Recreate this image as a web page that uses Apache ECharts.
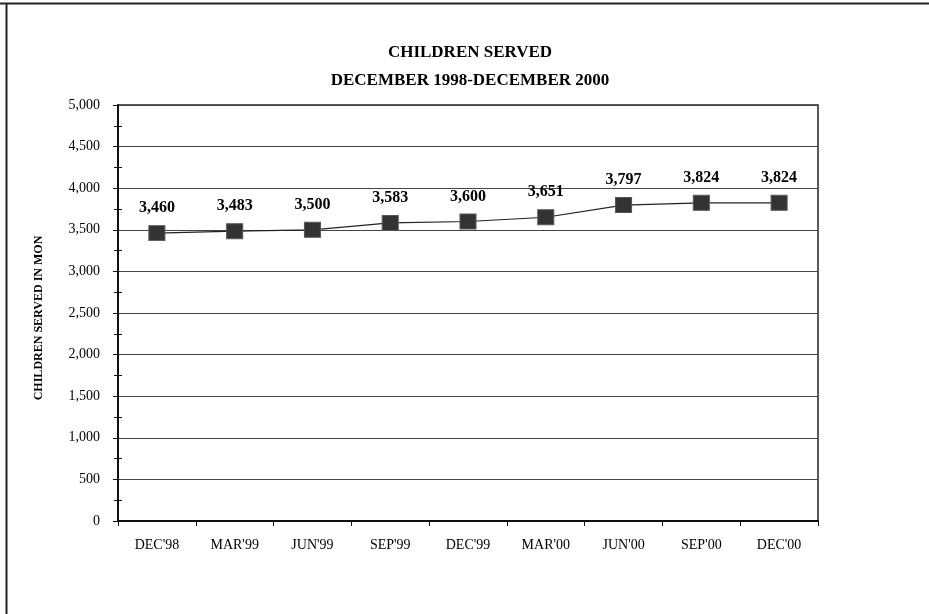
<!DOCTYPE html>
<html>
<head>
<meta charset="utf-8">
<script src="https://cdn.jsdelivr.net/npm/echarts@6/dist/echarts.min.js"></script>
<style>
html,body{margin:0;padding:0;background:#fff;}
#chart{width:929px;height:614px;}
</style>
</head>
<body>
<div id="chart"></div>
<script>
const categories = ["DEC'98","MAR'99","JUN'99","SEP'99","DEC'99","MAR'00","JUN'00","SEP'00","DEC'00"];
const childrenServed = [3460, 3483, 3500, 3583, 3600, 3651, 3797, 3824, 3824];
const titleLines = ["CHILDREN SERVED", "DECEMBER 1998-DECEMBER 2000"];
const yAxisName = "CHILDREN SERVED IN MON";
const yMin = 0, yMax = 5000, yStep = 500;

const serif = "'Liberation Serif', 'DejaVu Serif', serif";
const chart = echarts.init(document.getElementById('chart'));
chart.setOption({
  backgroundColor: '#fff',
  animation: false,
  title: {
    text: titleLines.join('\n'),
    left: 465, top: 34, textAlign: 'center',
    textStyle: { fontFamily: serif, fontWeight: 'bold', fontSize: 17, color: '#000', lineHeight: 28 }
  },
  graphic: [
    { type: 'line', shape: { x1: 0, y1: 3.5, x2: 929, y2: 3.5 }, style: { stroke: '#222', lineWidth: 2 } },
    { type: 'line', shape: { x1: 6.5, y1: 3, x2: 6.5, y2: 614 }, style: { stroke: '#222', lineWidth: 2 } },
    { type: 'text', x: 39, y: 318, rotation: Math.PI / 2,
      style: { text: yAxisName, font: 'bold 12px ' + serif, fill: '#000', align: 'center', verticalAlign: 'middle' }, z: 10 }
  ],
  grid: { left: 118, right: 111, top: 105, bottom: 93, show: true, borderColor: '#222', borderWidth: 1.5, backgroundColor: 'transparent' },
  xAxis: {
    type: 'category', data: categories, boundaryGap: true,
    axisLine: { lineStyle: { color: '#111', width: 2 } },
    axisTick: { show: true, length: 5, lineStyle: { color: '#111' } },
    axisLabel: { fontFamily: serif, fontSize: 14, color: '#000', margin: 17 }
  },
  yAxis: [{
    type: 'value', min: yMin, max: yMax, interval: yStep,
    axisLine: { show: true, lineStyle: { color: '#111', width: 2 } },
    axisTick: { show: true, length: 5, lineStyle: { color: '#111' } },
    minorTick: { show: true, splitNumber: 2, length: 4, lineStyle: { color: '#111' } },
    splitLine: { show: true, lineStyle: { color: '#444', width: 1 } },
    axisLabel: { fontFamily: serif, fontSize: 14, color: '#000', margin: 18,
      formatter: v => v.toLocaleString('en-US') }
  }, {
    type: 'value', min: yMin, max: yMax, interval: yStep, position: 'left',
    axisLine: { show: false }, axisLabel: { show: false }, splitLine: { show: false },
    axisTick: { show: false, inside: true },
    minorTick: { show: true, splitNumber: 2, length: 4, lineStyle: { color: '#111' } }
  }],
  series: [{
    type: 'line', data: childrenServed, yAxisIndex: 0,
    symbol: 'rect', symbolSize: [16, 15],
    itemStyle: { color: '#333', borderColor: '#555', borderWidth: 1 },
    lineStyle: { color: '#222', width: 1.2 },
    label: { show: true, position: 'top', distance: 9, fontFamily: serif, fontWeight: 'bold', fontSize: 16, color: '#000',
      formatter: p => p.value.toLocaleString('en-US') }
  }]
});
</script>
</body>
</html>
